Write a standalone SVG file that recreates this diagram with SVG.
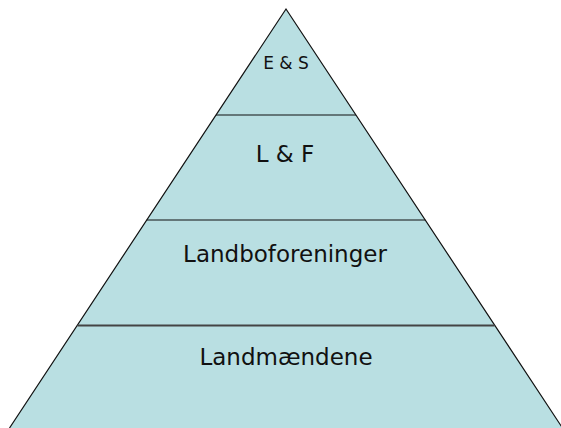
<svg xmlns="http://www.w3.org/2000/svg" width="561" height="428" viewBox="0 0 561 428">
<style>
.tier{fill:#B9DFE2;stroke:none}
.lbl{font-family:"DejaVu Sans",Verdana,sans-serif;fill:#111;text-anchor:middle}
.big{font-size:23px}
.small{font-size:17px}
.div{stroke:#111;stroke-width:1.2}
</style>
<rect width="561" height="428" fill="#fff"/>
<g id="tier-es">
<polygon class="tier" points="286,9 356,115 216,115"/>
<text class="lbl small" x="286" y="69">E &amp; S</text>
</g>
<g id="tier-lf">
<polygon class="tier" points="216,115 356,115 425.3,220 146.7,220"/>
<text class="lbl big" x="285" y="162">L &amp; F</text>
</g>
<g id="tier-landboforeninger">
<polygon class="tier" points="146.7,220 425.3,220 494.6,325 77.4,325"/>
<text class="lbl big" x="285" y="262">Landboforeninger</text>
</g>
<g id="tier-landmaendene">
<polygon class="tier" points="77.4,325 494.6,325 562.5,428 9.5,428"/>
<text class="lbl big" x="286" y="365">Landmændene</text>
</g>
<g id="connectors">
<polyline points="9.5,428 286,9 562.5,428" fill="none" stroke="#111" stroke-width="1.2"/>
<line class="div" x1="216" y1="115" x2="356" y2="115"/>
<line class="div" x1="146.7" y1="220" x2="425.3" y2="220"/>
<line x1="77.4" y1="325.5" x2="494.6" y2="325.5" stroke="#444" stroke-width="2.2"/>
</g>
</svg>
